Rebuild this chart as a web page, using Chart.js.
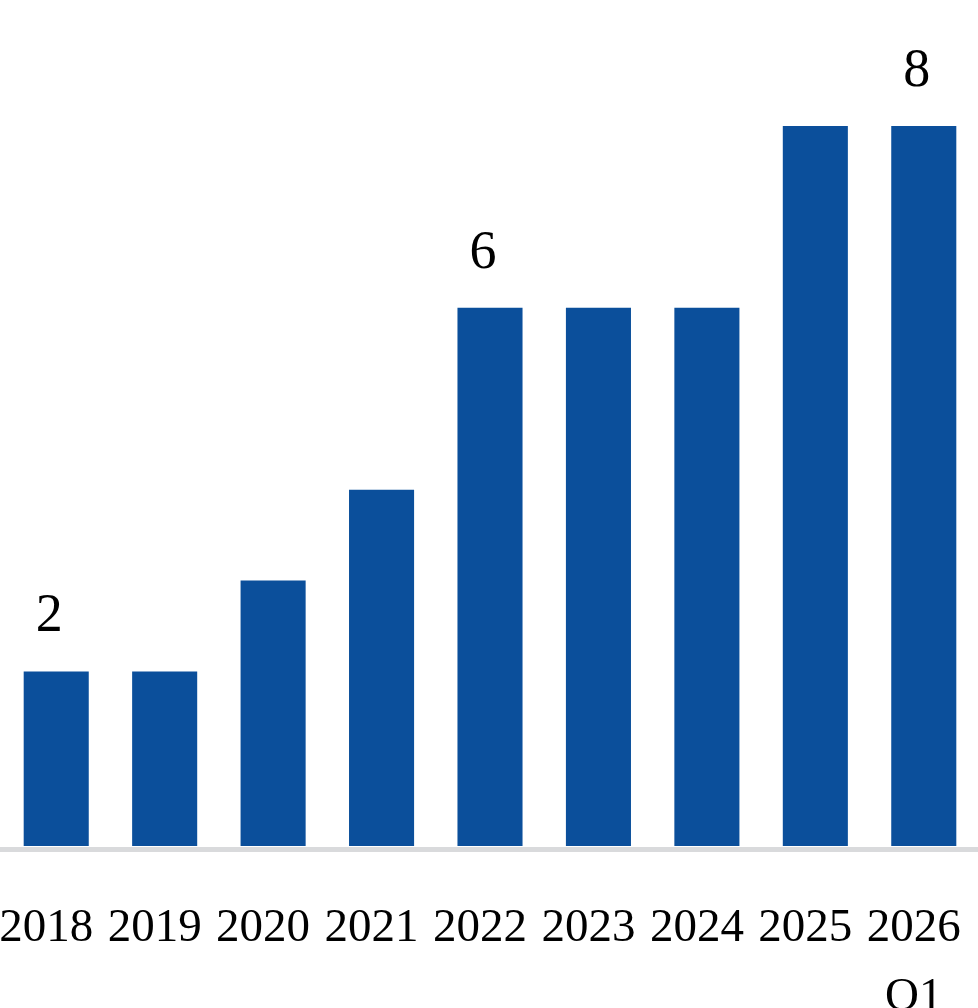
<!DOCTYPE html>
<html>
<head>
<meta charset="utf-8">
<script src="https://cdn.jsdelivr.net/npm/chart.js@4.4.1/dist/chart.umd.min.js"></script>
<style>
  html, body { margin: 0; padding: 0; background: #fff; }
  #wrap { width: 978px; height: 1008px; position: relative; }
</style>
</head>
<body>
<div id="wrap"><canvas id="myChart"></canvas></div>
<script>
const years = [['2018'], ['2019'], ['2020'], ['2021'], ['2022'], ['2023'], ['2024'], ['2025'], ['2026', 'Q1']];
const counts = [2, 2, 3, 4, 6, 6, 6, 8, 8];
// only these bars carry a value label in the original
const labelledBars = [0, 4, 8];

const barColor = '#0b4f9b';
const fontFamily = '"Liberation Serif", "Times New Roman", serif';

// value labels above a few bars
const valueLabels = {
    id: 'valueLabels',
    afterDatasetsDraw(chart) {
        const ctx = chart.ctx;
        const meta = chart.getDatasetMeta(0);
        ctx.save();
        ctx.fillStyle = '#000';
        ctx.font = '54px ' + fontFamily;
        ctx.textAlign = 'center';
        ctx.textBaseline = 'alphabetic';
        for (const i of labelledBars) {
            const bar = meta.data[i];
            ctx.fillText(String(counts[i]), bar.x - 7, bar.y - 40);
        }
        ctx.restore();
    }
};

// grey base line under the bars
const baseLine = {
    id: 'baseLine',
    beforeDatasetsDraw(chart) {
        const ctx = chart.ctx;
        ctx.save();
        ctx.fillStyle = '#d9dadc';
        ctx.fillRect(0, chart.chartArea.bottom + 1, chart.width, 5);
        ctx.restore();
    }
};

const priceChart = new Chart(document.getElementById('myChart'), {
    type: 'bar',
    data: {
        labels: years,
        datasets: [{
            data: counts,
            backgroundColor: barColor,
            borderWidth: 0,
            categoryPercentage: 1,
            barPercentage: 0.6
        }]
    },
    options: {
        responsive: true,
        maintainAspectRatio: false,
        animation: false,
        layout: { padding: { left: 2, right: 0, top: 0, bottom: 0 } },
        plugins: {
            legend: { display: false },
            tooltip: { enabled: false }
        },
        scales: {
            x: {
                grid: { display: false, drawTicks: false },
                border: { display: false },
                ticks: {
                    color: '#000',
                    font: { family: fontFamily, size: 47, lineHeight: 1.45 },
                    padding: 49,
                    labelOffset: -10,
                    maxRotation: 0,
                    autoSkip: false
                },
                afterFit: scale => {
                    scale.height = 162;
                    // the tick padding is meant to be vertical only
                    scale.paddingLeft = 0;
                    scale.paddingRight = 0;
                }
            },
            y: {
                display: false,
                min: 0.08,
                max: 9.386
            }
        }
    },
    plugins: [baseLine, valueLabels]
});
</script>
</body>
</html>
